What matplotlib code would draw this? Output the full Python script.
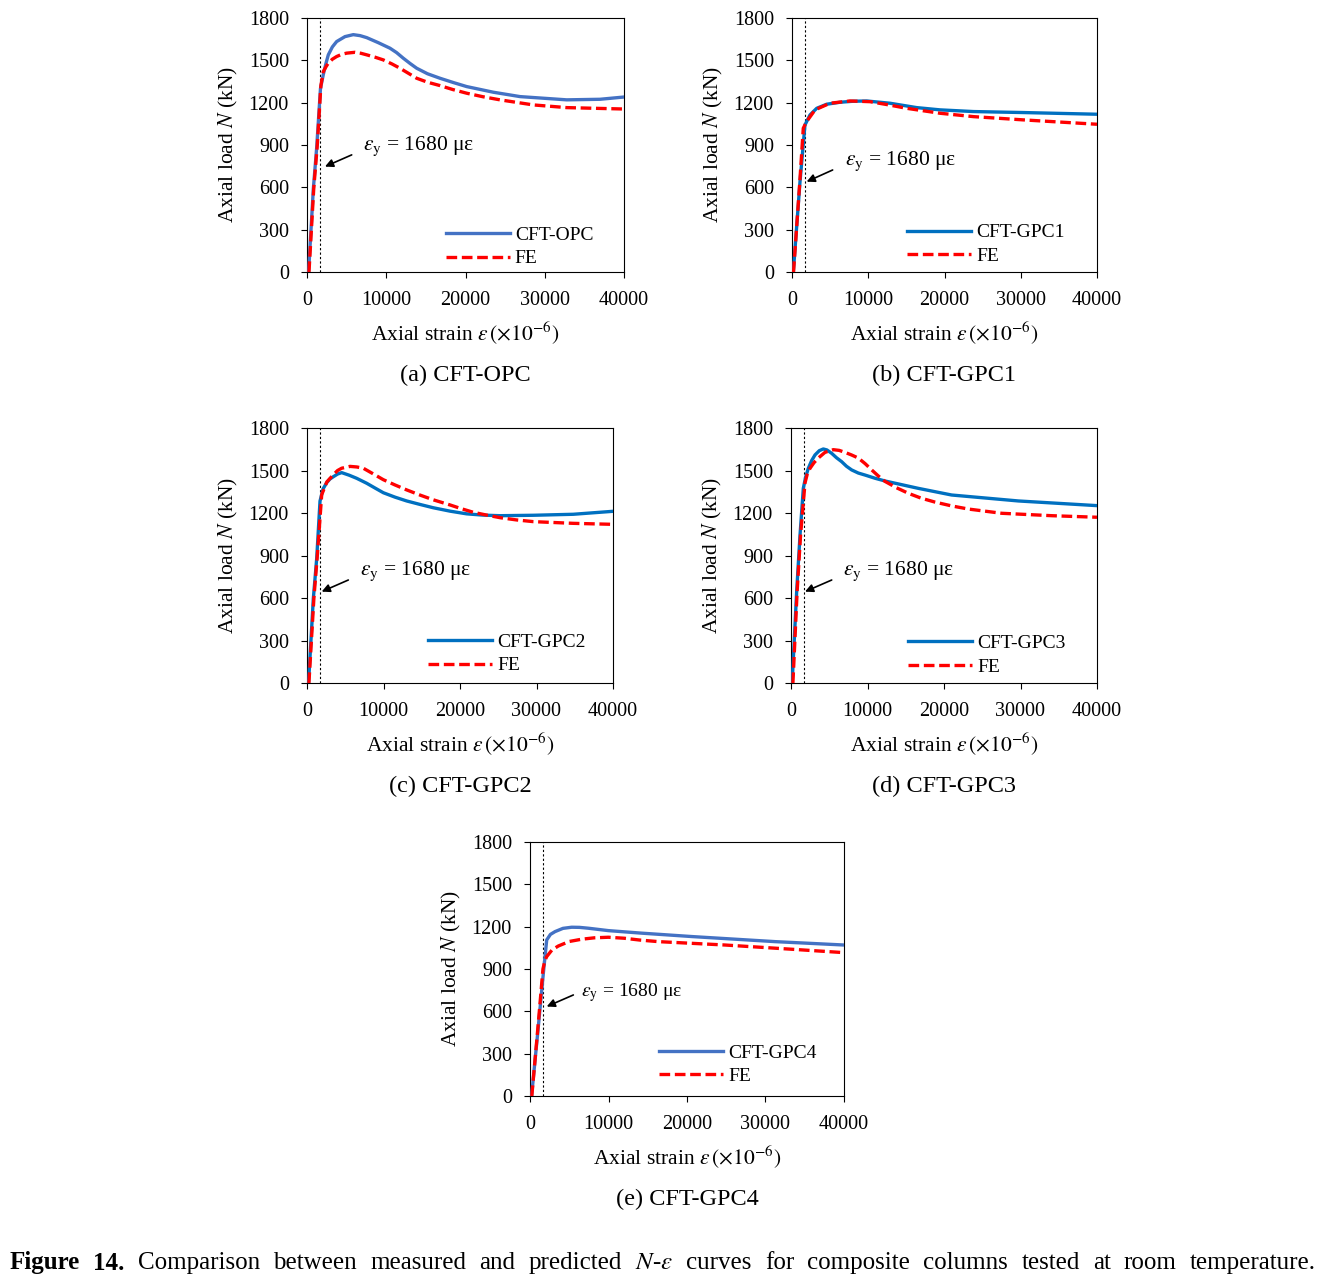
import matplotlib
matplotlib.use('Agg')
import matplotlib.pyplot as plt

plt.rcParams['font.family'] = ['Liberation Serif', 'DejaVu Serif']
plt.rcParams['mathtext.fontset'] = 'stix'
plt.rcParams['font.size'] = 14

# ---- data (strain in 1e-6, load in kN) ----
opc_x = [200, 800, 1220, 1700, 2060, 2400, 2690, 3200, 3740, 4790, 5840, 6700, 7530, 9000,
         10470, 11300, 12150, 13000, 13840, 15200, 16780, 18500, 20150, 23510, 26880,
         32770, 36970, 40000]
opc_y = [0, 590, 880, 1300, 1400, 1480, 1539, 1595, 1633, 1668, 1682, 1675, 1661, 1625,
         1586, 1555, 1515, 1478, 1444, 1405, 1373, 1342, 1314, 1274, 1243,
         1220, 1224, 1240]
opc_fe_x = [250, 850, 1300, 1750, 2060, 2400, 2690, 3200, 3740, 4400, 5010, 6060, 6800, 7530,
            8600, 9630, 10700, 11730, 12800, 13840, 15200, 16780, 18400, 20150, 22200,
            24350, 28560, 32770, 40000]
opc_fe_y = [0, 590, 900, 1320, 1420, 1455, 1480, 1508, 1527, 1543, 1551, 1557, 1550, 1539,
            1522, 1503, 1475, 1444, 1408, 1373, 1345, 1321, 1293, 1267, 1242,
            1220, 1184, 1165, 1155]

gpc1_x = [170, 1050, 1700, 2360, 3240, 4550, 6300, 8000, 9800, 12850, 16350, 19410, 23800,
          30330, 40000]
gpc1_y = [0, 640, 1042, 1113, 1160, 1189, 1203, 1210, 1212, 1196, 1165, 1149, 1137,
          1130, 1118]
gpc1_fe_x = [200, 1000, 1480, 1920, 3020, 4980, 7610, 10230, 12600, 15040, 19410, 23800,
             30330, 40000]
gpc1_fe_y = [0, 620, 1019, 1066, 1149, 1196, 1212, 1207, 1185, 1160, 1125, 1101,
             1078, 1047]

gpc2_x = [200, 830, 1270, 1700, 2100, 2575, 3000, 3440, 4000, 4530, 5500, 6490, 7800, 8900,
          9980, 11500, 13030, 14800, 16510, 18700, 20870, 23000, 25230, 29590, 34810, 40000]
gpc2_y = [0, 598, 880, 1284, 1370, 1414, 1440, 1456, 1475, 1485, 1467, 1445, 1410, 1376,
          1343, 1312, 1285, 1260, 1237, 1213, 1194, 1185, 1181, 1184, 1191, 1212]
gpc2_fe_x = [250, 900, 1350, 1920, 2600, 3440, 4000, 4530, 5620, 6500, 7360, 8600, 9980,
             11500, 13030, 14800, 16510, 18690, 20200, 21740, 23500, 25230, 27400, 29590,
             34810, 40000]
gpc2_fe_y = [0, 598, 900, 1329, 1420, 1470, 1500, 1516, 1529, 1525, 1516, 1478, 1435,
             1398, 1363, 1326, 1293, 1257, 1230, 1205, 1185, 1167, 1151, 1139,
             1127, 1120]

gpc3_x = [150, 740, 1180, 1610, 1900, 2260, 2700, 3140, 3700, 4220, 4700, 5320, 5950, 6630,
          7250, 7930, 8800, 9670, 11000, 12290, 16640, 21000, 29720, 40000]
gpc3_y = [0, 645, 1045, 1374, 1450, 1515, 1570, 1610, 1640, 1652, 1645, 1621, 1590, 1562,
          1530, 1504, 1482, 1468, 1445, 1426, 1374, 1327, 1285, 1252]
gpc3_fe_x = [250, 800, 1250, 1830, 2100, 2480, 3000, 3570, 4440, 5530, 6300, 7060, 7900,
             8800, 9700, 10550, 11400, 12290, 13800, 15340, 17000, 18820, 21000, 23180,
             27540, 34080, 40000]
gpc3_fe_y = [0, 645, 1045, 1412, 1470, 1515, 1555, 1588, 1628, 1647, 1642, 1628, 1610,
             1588, 1548, 1504, 1462, 1423, 1378, 1339, 1305, 1277, 1250, 1228,
             1198, 1181, 1170]

gpc4_x = [200, 1060, 1700, 2130, 2600, 3190, 4200, 5310, 6300, 7430, 9980, 14230, 20600,
          31210, 40000]
gpc4_y = [0, 491, 870, 1106, 1145, 1165, 1188, 1196, 1195, 1189, 1172, 1154, 1130,
          1094, 1070]
gpc4_fe_x = [230, 1080, 1650, 1900, 2130, 2800, 3610, 5000, 6580, 8200, 9980, 12000, 14000,
             16350, 24840, 33340, 40000]
gpc4_fe_y = [0, 530, 900, 960, 988, 1035, 1063, 1095, 1111, 1121, 1125, 1118, 1105,
             1094, 1070, 1040, 1016]

eps_y = 1680
x_ticks = [0, 10000, 20000, 30000, 40000]
y_ticks = [0, 300, 600, 900, 1200, 1500, 1800]

names = ['CFT-OPC', 'CFT-GPC1', 'CFT-GPC2', 'CFT-GPC3', 'CFT-GPC4']
letters = ['a', 'b', 'c', 'd', 'e']
exp_x = [opc_x, gpc1_x, gpc2_x, gpc3_x, gpc4_x]
exp_y = [opc_y, gpc1_y, gpc2_y, gpc3_y, gpc4_y]
fe_x = [opc_fe_x, gpc1_fe_x, gpc2_fe_x, gpc3_fe_x, gpc4_fe_x]
fe_y = [opc_fe_y, gpc1_fe_y, gpc2_fe_y, gpc3_fe_y, gpc4_fe_y]

# ---- layout (pixel boxes of each panel: left, top, right, bottom) ----
W, H = 1336, 1282
boxes = [(307, 18, 624, 272), (792, 18, 1097, 272), (307, 428, 613, 683),
         (791, 428, 1097, 683), (530, 842, 844, 1096)]
exp_colors = ['#4472C4', '#0070C0', '#0070C0', '#0070C0', '#4472C4']
# legend anchor (axes fraction) and annotation placement (data coords)
leg_pos = [(0.438, 0.18), (0.377, 0.19), (0.395, 0.195), (0.382, 0.19), (0.411, 0.205)]
ann_text = [(7070, 893), (6950, 787), (6930, 791), (6800, 791), (6500, 730)]
ann_tail = [(5640, 830), (5330, 723), (5400, 727), (5320, 727), (5520, 716)]
ann_head = [(2270, 747), (1920, 640), (1920, 645), (1830, 645), (2130, 634)]
ann_size = [15.5, 15.5, 15.5, 15.5, 14]

fig = plt.figure(figsize=(W / 100, H / 100), dpi=100)

for i in range(5):
    l, t, r, b = boxes[i]
    ax = fig.add_axes([l / W, 1 - b / H, (r - l) / W, (b - t) / H])
    ax.plot(exp_x[i], exp_y[i], color=exp_colors[i], lw=2.4, label=names[i], zorder=3)
    ax.plot(fe_x[i], fe_y[i], color='#FF0000', lw=2.4, dashes=(3.2, 1.4), label='FE', zorder=4)
    ax.axvline(eps_y, color='black', lw=0.8, dashes=(2, 2), zorder=2)
    ax.set_xlim(0, 40000)
    ax.set_ylim(0, 1800)
    ax.set_xticks(x_ticks)
    ax.set_yticks(y_ticks)
    ax.tick_params(direction='out', length=4, width=0.8, labelsize=14.5)
    ax.tick_params(axis='x', pad=10)
    ax.tick_params(axis='y', pad=9)
    for s in ax.spines.values():
        s.set_linewidth(0.8)
    ax.set_xlabel(r'Axial strain $\varepsilon\,(\times10^{-6})$', fontsize=15.5, labelpad=6)
    ax.set_ylabel(r'Axial load $N$ (kN)', fontsize=15.5, labelpad=6)
    ax.annotate('', xy=ann_head[i], xytext=ann_tail[i],
                arrowprops=dict(arrowstyle='-|>', color='black', lw=1.2,
                                mutation_scale=12, shrinkA=0, shrinkB=0))
    ax.text(ann_text[i][0], ann_text[i][1], r'$\varepsilon_{\rm y}$ = 1680 με',
            fontsize=ann_size[i], va='center', ha='left')
    ax.legend(loc='upper left', bbox_to_anchor=leg_pos[i], frameon=False, fontsize=14,
              handlelength=3.3, handletextpad=0.25, borderpad=0, borderaxespad=0,
              labelspacing=0.3)
    fig.text((l + r) / 2 / W, 1 - (b + 103) / H, '(%s) %s' % (letters[i], names[i]),
             fontsize=17.5, ha='center', va='center')

# ---- justified figure caption ----
words = [('Figure', 'bold'), ('14.', 'bold'), ('Comparison', 'normal'), ('between', 'normal'),
         ('measured', 'normal'), ('and', 'normal'), ('predicted', 'normal'),
         (r'$N$-$\varepsilon$', 'normal'), ('curves', 'normal'), ('for', 'normal'),
         ('composite', 'normal'), ('columns', 'normal'), ('tested', 'normal'), ('at', 'normal'),
         ('room', 'normal'), ('temperature.', 'normal')]
objs = [fig.text(0, 1 - 1263 / H, w, fontsize=18, fontweight=fw, va='center', ha='left')
        for w, fw in words]
renderer = fig.canvas.get_renderer()
widths = [o.get_window_extent(renderer).width for o in objs]
x0, x1 = 10, 1316
gap = (x1 - x0 - sum(widths)) / (len(objs) - 1)
x = x0
for o, w in zip(objs, widths):
    o.set_x(x / W)
    x += w + gap

fig.savefig('out.png', dpi=100)
plt.close()
